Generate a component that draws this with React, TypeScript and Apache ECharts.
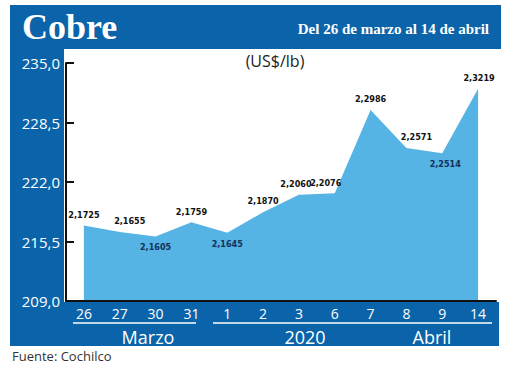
import React, { useEffect, useRef } from "react";
import * as echarts from "echarts";

const categories = ["26", "27", "30", "31", "1", "2", "3", "6", "7", "8", "9", "14"];
const prices = [217.25, 216.55, 216.05, 217.59, 216.45, 218.7, 220.6, 220.76, 229.86, 225.71, 225.14, 232.19];
const priceLabels = ["2,1725", "2,1655", "2,1605", "2,1759", "2,1645", "2,1870", "2,2060", "2,2076", "2,2986", "2,2571", "2,2514", "2,3219"];
const labelBelow = [false, false, true, false, true, false, false, false, false, false, true, false];
const labelShiftX = [0, 10, 0, 0, 0, 0, -3, -9, 0, 10, 3, 1];
const yMin = 209;
const yMax = 235;
const yStep = 6.5;
const monthLabels = ["Marzo", "2020", "Abril"];
const titleText = "Cobre";
const subtitleText = "Del 26 de marzo al 14 de abril";
const unitText = "(US$/lb)";
const sourceText = "Fuente: Cochilco";

const BLUE = "#0b64a9";
const AREA = "#55b4e4";
const SANS = "'Open Sans', 'Noto Sans', sans-serif";
const NARROW = "'Liberation Sans Narrow', 'DejaVu Sans Condensed', 'Roboto', sans-serif";
const SERIF = "'Liberation Serif', 'DejaVu Serif', serif";

export default function App() {
  const ref = useRef<HTMLDivElement>(null);
  useEffect(() => {
    if (!ref.current) return;
    const chart = echarts.init(ref.current, null, { renderer: "svg" });
    const option: any = {
      animation: false,
      backgroundColor: "#ffffff",
      grid: { left: 66, right: 24, top: 63, bottom: 67, containLabel: false },
      graphic: [
        { type: "rect", z: -5, shape: { x: 10, y: 5, width: 491, height: 44 }, style: { fill: BLUE } },
        { type: "rect", z: -5, shape: { x: 10, y: 48, width: 54, height: 298 }, style: { fill: BLUE } },
        { type: "rect", z: -5, shape: { x: 10, y: 302, width: 489, height: 44 }, style: { fill: BLUE } },
        {
          type: "text", z: 10, x: 22, y: 27,
          style: { text: titleText, fill: "#fff", font: `bold 36px ${SERIF}`, verticalAlign: "middle" },
        },
        {
          type: "text", z: 10, x: 489, y: 29,
          style: { text: subtitleText, fill: "#fff", font: `bold 15px ${SERIF}`, align: "right", verticalAlign: "middle" },
        },
        {
          type: "text", z: 10, x: 275, y: 61,
          style: { text: unitText, fill: "#222", font: `16px ${SANS}`, align: "center", verticalAlign: "middle" },
        },
        {
          type: "text", z: 10, x: 12, y: 356,
          style: { text: sourceText, fill: "#333", font: `13px ${SANS}`, align: "left", verticalAlign: "middle" },
        },
        { type: "line", z: 10, shape: { x1: 73, y1: 323, x2: 196, y2: 323 }, style: { stroke: "#fff", lineWidth: 1.5 } },
        { type: "line", z: 10, shape: { x1: 213, y1: 323, x2: 492, y2: 323 }, style: { stroke: "#fff", lineWidth: 1.5 } },
        {
          type: "text", z: 10, x: 148, y: 337,
          style: { text: monthLabels[0], fill: "#fff", font: `18px ${SANS}`, align: "center", verticalAlign: "middle" },
        },
        {
          type: "text", z: 10, x: 305, y: 337,
          style: { text: monthLabels[1], fill: "#fff", font: `18px ${SANS}`, align: "center", verticalAlign: "middle" },
        },
        {
          type: "text", z: 10, x: 432, y: 337,
          style: { text: monthLabels[2], fill: "#fff", font: `18px ${SANS}`, align: "center", verticalAlign: "middle" },
        },
      ],
      xAxis: {
        type: "category",
        data: categories,
        boundaryGap: true,
        z: 5,
        axisLine: { show: true, lineStyle: { color: "#111", width: 2 } },
        axisTick: { show: false },
        axisLabel: { color: "#fff", fontSize: 14, fontFamily: SANS, margin: 5, interval: 0 },
        splitLine: { show: false },
      },
      yAxis: [
        {
          type: "value",
          position: "left",
          min: 0,
          max: yMax - yMin,
          interval: yStep,
          z: 5,
          axisLine: { show: true, lineStyle: { color: "#111", width: 2 } },
          axisTick: { show: true, inside: true, length: 8, lineStyle: { color: "#111", width: 2 } },
          axisLabel: {
            color: "#fff", fontSize: 15, fontFamily: SANS, margin: 6,
            formatter: (v: number) => (v + yMin).toFixed(1).replace(".", ","),
          },
          splitLine: { show: false },
        },
        {
          type: "value",
          position: "left",
          min: yMin,
          max: yMax,
          show: false,
        },
      ],
      series: [
        {
          type: "line",
          yAxisIndex: 1,
          z: 2,
          data: prices.map((v, i) => ({
            value: v,
            label: {
              position: labelBelow[i] ? "bottom" : "top",
              color: labelBelow[i] ? "#14305a" : "#111",
              offset: [labelShiftX[i], 0],
            },
          })),
          symbol: "circle",
          symbolSize: 0.5,
          showSymbol: true,
          lineStyle: { width: 0 },
          areaStyle: { color: AREA, opacity: 1, origin: "start" },
          itemStyle: { color: AREA, opacity: 1, borderWidth: 0 },
          label: {
            show: true,
            opacity: 1,
            fontFamily: NARROW,
            fontWeight: "bold",
            fontSize: 9,
            distance: 6,
            formatter: (p: any) => priceLabels[p.dataIndex],
          },
        },
      ],
    };
    chart.setOption(option);
    return () => chart.dispose();
  }, []);
  return <div ref={ref} style={{ position: "fixed", left: 0, top: 0, width: 520, height: 368 }} />;
}
